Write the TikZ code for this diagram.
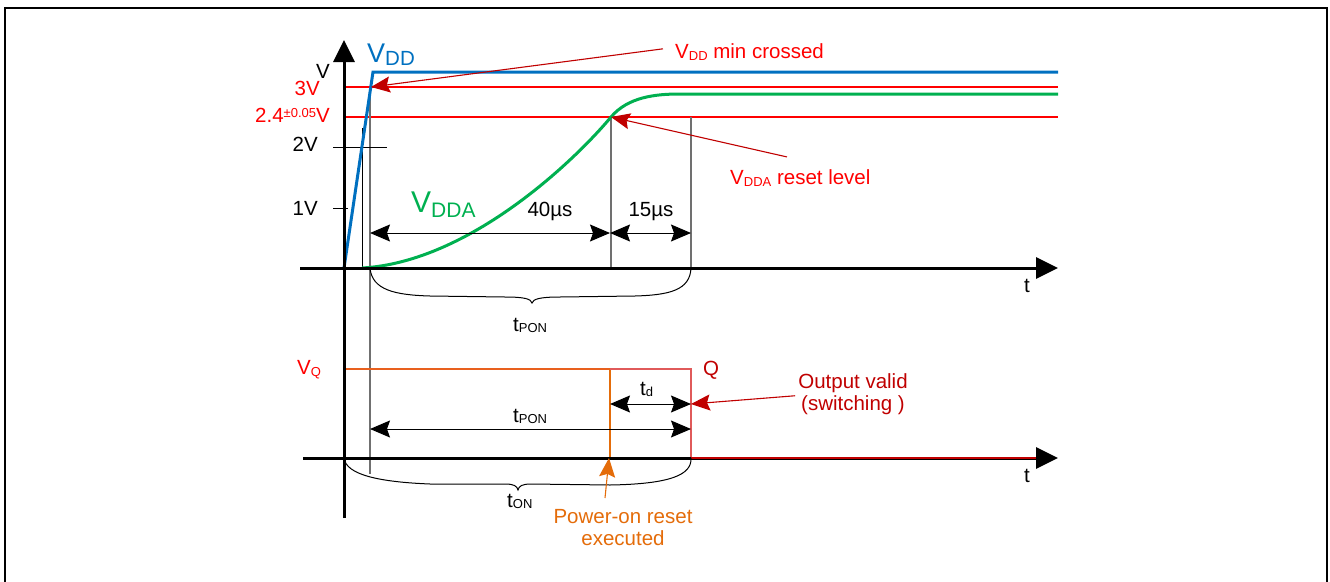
\documentclass[tikz,border=0pt]{standalone}
\usepackage{fontspec}
\setmainfont{Liberation Sans}
\usetikzlibrary{arrows.meta}
\definecolor{vblue}{HTML}{0070C0}
\definecolor{vgreen}{HTML}{00B050}
\definecolor{vred}{HTML}{FF0000}
\definecolor{dred}{HTML}{C00000}
\definecolor{qred}{HTML}{E05A5A}
\definecolor{vorange}{HTML}{E46C0A}
\definecolor{vqline}{HTML}{E8601E}
\definecolor{vgray}{HTML}{707070}
\newcommand{\lowsub}[3]{\raisebox{-#1pt}{\fontsize{#2}{#2}\selectfont #3}}
\tikzset{
  lbl/.style={inner sep=0pt, font=\fontsize{20.5}{22}\selectfont},
  axisline/.style={line width=3pt, -{Triangle[length=22pt,width=21pt]}},
  dimline/.style={line width=1pt, {Stealth[length=20pt,width=17pt,inset=3pt]}-{Stealth[length=20pt,width=17pt,inset=3pt]}},
  ptrline/.style={line width=1.1pt, -{Stealth[length=19pt,width=16pt,inset=3pt]}},
  levelline/.style={line width=1.25pt, draw=vred},
  guide/.style={line width=1.2pt, draw=vgray},
  bracepath/.style={line width=1pt, draw=black},
}
\begin{document}
\begin{tikzpicture}[x=1pt,y=-1pt]
\useasboundingbox (0,0) rectangle (1330,581);
% frame
\draw[line width=1.6pt] (5,590) -- (5,8) -- (1327,8) -- (1327,590);

% coordinates
\coordinate (yb) at (344,518); \coordinate (yt) at (344,40);
\coordinate (x1s) at (300,268); \coordinate (x1e) at (1058,268);
\coordinate (x2s) at (303,458); \coordinate (x2e) at (1058,458);
\coordinate (o1) at (344,268);
\coordinate (vddc) at (373,72); \coordinate (vdde) at (1058,72);
\coordinate (p3v) at (371,87);
\coordinate (r3s) at (344,87); \coordinate (r3e) at (1058,87);
\coordinate (r24s) at (344,117); \coordinate (r24e) at (1058,117);
\coordinate (g0) at (362,268); \coordinate (g1) at (611,117);
\coordinate (g2) at (680,94); \coordinate (g3) at (1058,94);
\coordinate (tk2a) at (333,147); \coordinate (tk2b) at (387,147);
\coordinate (tk1a) at (333,208); \coordinate (tk1b) at (348,208);
\coordinate (va) at (362,128); \coordinate (vb) at (362,268);
\coordinate (wa) at (370,88); \coordinate (wb) at (370,474);
\coordinate (ua) at (611,117); \coordinate (ub) at (611,268);
\coordinate (sa) at (691,117); \coordinate (sb) at (691,268);
\coordinate (d1a) at (370,233); \coordinate (d1b) at (610,233); \coordinate (d2b) at (691,233);
\coordinate (q0) at (344,369); \coordinate (q1) at (610,369); \coordinate (q2) at (610,458);
\coordinate (q3) at (691,369); \coordinate (q4) at (691,458); \coordinate (q5) at (1036,458);
\coordinate (td1) at (610,404); \coordinate (td2) at (691,404);
\coordinate (tp1) at (370,429); \coordinate (tp2) at (691,429);

% reference levels
\draw[levelline] (r3s) -- (r3e);
\draw[levelline] (r24s) -- (r24e);

% guides
\draw[line width=1pt] (va) -- (vb);
\draw[guide] (wa) -- (wb);
\draw[guide] (ua) -- (ub);
\draw[guide] (sa) -- (sb);
\draw[line width=1pt] (tk2a) -- (tk2b);
\draw[line width=1pt] (tk1a) -- (tk1b);

% curves
\draw[line width=3pt, vgreen] (g0) .. controls (470,262) and (576,159) .. (g1)
      .. controls (628,97) and (655,94) .. (g2) -- (g3);
\draw[line width=3pt, vblue, line join=miter] (o1) -- (vddc) -- (vdde);

% lower signal
\draw[line width=2.5pt, vqline] (q0) -- (q1);
\draw[line width=1.3pt, vorange] (q1) -- (q2);
\draw[line width=1.5pt, qred] (q1) -- (q3) -- (q4);

% axes
\draw[axisline] (yb) -- (yt);
\draw[axisline] (x1s) -- (x1e);
\draw[axisline] (x2s) -- (x2e);
\draw[line width=2pt, dred] (q4) -- (q5);

% dimensions
\draw[dimline] (d1a) -- (d1b);
\draw[dimline] (d1b) -- (d2b);
\draw[dimline] (td1) -- (td2);
\draw[dimline] (tp1) -- (tp2);

% braces
\draw[bracepath] (370,268) .. controls (372,290) and (395,295) .. (430,296) -- (505,297)
  .. controls (525,297) and (531,299) .. (532,303) .. controls (533,299) and (540,297) .. (560,297)
  -- (635,296) .. controls (670,295) and (690,290) .. (691,268);
\draw[bracepath] (344,458) .. controls (346,475) and (380,482) .. (430,484) -- (505,484)
  .. controls (514,484) and (517,486) .. (518,490) .. controls (519,486) and (522,484) .. (531,484)
  -- (610,485) .. controls (670,484) and (692,475) .. (691,458);

% axis labels
\node[lbl, anchor=base east] (lv) at (330,78) {V};
\node[lbl, anchor=base east, text=vred] (l3v) at (320,95) {3V};
\node[lbl, anchor=base east, text=vred] (l24v) at (330,122) {2.4\raisebox{5pt}{\fontsize{13}{13}\selectfont ±0.05}V};
\node[lbl, anchor=base east] (l2v) at (318,151) {2V};
\node[lbl, anchor=base east] (l1v) at (318,215) {1V};
\node[lbl, anchor=base west] (lt1) at (1024,292) {t};
\node[lbl, anchor=base west] (lt2) at (1024,482) {t};

% curve labels
\node[inner sep=0pt, anchor=base west, text=vblue, font=\fontsize{27}{27}\selectfont] (lvdd) at (367,62) {V\lowsub{3}{20.5}{DD}};
\node[inner sep=0pt, anchor=base west, text=vgreen, font=\fontsize{30}{30}\selectfont] (lvdda) at (411,212) {V\lowsub{5}{21}{DDA}};

% dimension labels
\node[lbl, anchor=base] (l40) at (550,216) {40µs};
\node[lbl, anchor=base] (l15) at (651,216) {15µs};
\node[lbl, anchor=base west] (ltpon1) at (513,331) {t\lowsub{1}{13}{PON}};
\node[lbl, anchor=base west] (ltpon2) at (513,422) {t\lowsub{1}{13}{PON}};
\node[lbl, anchor=base west] (ltd) at (640,395) {t\lowsub{1}{13}{d}};
\node[lbl, anchor=base west] (lton) at (507,507) {t\lowsub{1}{13}{ON}};
\node[lbl, anchor=base west, text=vred] (lvq) at (297,374) {V\lowsub{2}{13}{Q}};
\node[lbl, anchor=base west, text=dred] (lq) at (703,375) {Q};

% annotations
\node[lbl, anchor=base west, text=vred] (vddmin) at (675,58) {V\lowsub{2.5}{13}{DD} min crossed};
\node[lbl, anchor=base west, text=vred] (vddareset) at (730,184) {V\lowsub{2.5}{13}{DDA} reset level};
\node[lbl, align=center, text=dred, anchor=north] (outv) at (853,373) {Output valid\\(switching )};
\node[lbl, align=center, text=vorange, anchor=north] (por) at (623,509) {Power-on reset\\executed};

\coordinate (vddminst) at ([xshift=-12pt,yshift=3pt]vddmin.west);
\coordinate (resetst) at ([xshift=57pt,yshift=12pt]vddareset.north west);
\coordinate (outvst) at ([xshift=-3pt,yshift=-2pt]outv.west);
\coordinate (porst) at ([xshift=-18pt,yshift=11pt]por.north);
\coordinate (tdtip) at (691,404);
\coordinate (portip) at (609,458);

\draw[ptrline, dred] (vddminst) -- (p3v);
\draw[ptrline, dred] (resetst) -- (g1);
\draw[ptrline, dred] (outvst) -- (tdtip);
\draw[ptrline, vorange] (porst) -- (portip);
\end{tikzpicture}
\end{document}
